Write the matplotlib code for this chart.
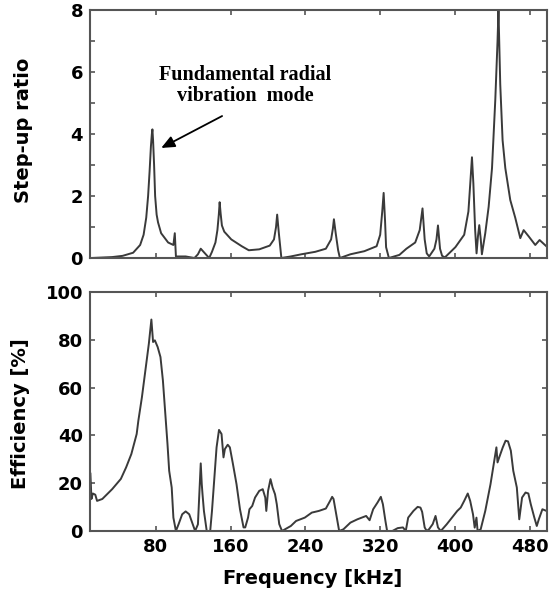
import matplotlib
matplotlib.use("Agg")
import matplotlib.pyplot as plt

# step-up ratio vs frequency (kHz)
freq_top = [11.1, 33.6, 44.8, 56.0, 63.5, 67.2, 70.0, 72.0, 73.6, 75.0, 76.0, 76.6,
            77.3, 78.4, 79.5, 81.1, 82.6, 85.9, 93.4, 99.0, 100.5, 101.7, 112.1,
            121.5, 125.2, 128.2, 132.7, 137.2, 140.2, 143.9, 146.0, 147.5, 148.4,
            149.4, 150.8, 153.3, 160.8, 172.0, 179.5, 190.7, 201.9, 206.4, 208.6,
            209.8, 211.6, 214.3, 224.3, 235.6, 250.5, 261.8, 267.4, 269.3, 270.4,
            272.3, 274.9, 276.8, 288.0, 302.9, 316.0, 319.8, 322.0, 323.5, 325.0,
            326.1, 329.1, 340.3, 347.8, 357.2, 362.0, 365.0, 367.3, 369.5, 372.1,
            377.7, 379.9, 381.5, 383.7, 385.9, 388.9, 400.1, 409.5, 414.0, 416.2,
            417.8, 419.3, 421.2, 422.7, 424.2, 425.6, 427.2, 428.4, 432.0, 435.6,
            439.2, 442.7, 445.1, 446.1, 448.0, 450.5, 453.4, 458.7, 464.0, 469.4,
            473.0, 478.3, 485.4, 490.0, 497.9]
ratio = [0.0, 0.03, 0.07, 0.17, 0.42, 0.75, 1.3, 2.0, 2.8, 3.6, 4.0, 4.15,
         3.8, 3.0, 2.0, 1.4, 1.15, 0.8, 0.5, 0.42, 0.8, 0.05, 0.05,
         0.0, 0.12, 0.3, 0.15, 0.0, 0.2, 0.5, 0.9, 1.4, 1.8,
         1.45, 1.05, 0.85, 0.6, 0.38, 0.25, 0.28, 0.4, 0.6, 1.0,
         1.4, 0.8, 0.0, 0.05, 0.12, 0.2, 0.3, 0.6, 0.95, 1.25,
         0.8, 0.25, 0.0, 0.12, 0.22, 0.38, 0.75, 1.5, 2.1, 1.2,
         0.35, 0.0, 0.1, 0.3, 0.5, 0.9, 1.6, 0.6, 0.15, 0.05,
         0.3, 0.6, 1.05, 0.3, 0.07, 0.02, 0.35, 0.75, 1.5, 2.5,
         3.25, 2.4, 0.9, 0.15, 0.7, 1.06, 0.6, 0.12, 0.8, 1.65,
         2.9, 5.1, 7.0, 8.0, 5.6, 3.8, 2.9, 1.87, 1.3, 0.64,
         0.9, 0.7, 0.42, 0.58, 0.36]

# efficiency vs frequency
freq_bot = [10.4, 11.5, 13.0, 15.6, 17.5, 23.1, 33.6, 42.9, 48.5, 54.1, 59.8, 61.6,
            65.4, 69.1, 72.8, 75.5, 77.3, 79.2, 82.2, 85.2, 87.8, 90.4, 92.7, 94.5,
            97.2, 99.0, 101.7, 104.6, 108.4, 112.1, 115.9, 119.6, 122.2, 125.2, 127.1,
            128.2, 129.3, 130.1, 131.6, 134.6, 138.3, 140.2, 142.8, 145.1, 147.7,
            150.4, 152.5, 154.0, 157.0, 159.3, 162.6, 166.4, 170.1, 173.9, 175.7,
            178.7, 180.2, 183.2, 186.2, 190.7, 194.4, 197.1, 198.2, 200.1, 202.7,
            204.9, 207.5, 209.4, 212.0, 215.0, 224.4, 230.0, 239.3, 246.8, 254.3,
            261.8, 266.3, 268.5, 270.0, 272.2, 274.1, 276.0, 280.5, 288.0, 295.5,
            304.8, 308.5, 312.3, 317.1, 320.5, 322.7, 325.4, 327.2, 332.8, 338.5,
            344.1, 347.1, 349.7, 355.3, 359.8, 362.8, 364.6, 367.3, 369.5, 372.1,
            375.9, 378.9, 381.5, 384.5, 390.8, 396.4, 402.1, 405.8, 409.5, 413.3,
            415.9, 418.9, 420.7, 422.6, 423.8, 427.1, 432.0, 437.6, 442.1, 443.9,
            445.1, 446.9, 450.7, 453.7, 456.3, 459.3, 461.9, 465.7, 468.3, 471.3,
            475.0, 478.0, 480.6, 484.4, 487.0, 489.2, 493.0, 497.4]
efficiency = [24, 13.4, 15.7, 15.2, 12.6, 13.4, 17.5, 21.8, 26.6, 32.2, 40.6, 46.2,
              56.0, 67.2, 78.4, 88.5, 79.1, 79.8, 77.0, 72.8, 63.0, 49.0, 36.4, 25.2,
              18.2, 5.6, 0, 2.9, 7.0, 8.2, 7.0, 2.9, 0, 2.8, 19.6,
              28.3, 19.6, 15.4, 8.4, 0, 0, 8.4, 22.4, 35.0, 42.3,
              40.6, 30.8, 34.3, 36.1, 35.0, 28.0, 19.6, 9.1, 1.5, 1.5,
              5.6, 9.1, 10.5, 14.0, 16.8, 17.5, 14.0, 8.4, 16.8, 21.7,
              18.2, 15.4, 11.2, 2.9, 0, 2.1, 4.2, 5.6, 7.7, 8.4,
              9.4, 12.6, 14.3, 13.4, 8.4, 4.2, 0, 0.7, 3.5, 4.9,
              6.3, 4.5, 9.1, 12.0, 14.3, 11.2, 4.2, 0, 0, 1.2,
              1.5, 0, 5.6, 8.4, 10.1, 9.8, 8.0, 1.5, 0, 0.8,
              2.9, 6.3, 1.5, 0, 2.8, 5.6, 8.4, 9.8, 12.6, 15.7,
              12.6, 7.0, 1.4, 5.6, 0, 0.7, 8.4, 19.6, 30.8, 35.0,
              28.7, 30.8, 35.0, 37.8, 37.5, 33.6, 25.2, 18.2, 4.9, 14.0,
              16.1, 15.7, 11.2, 5.6, 2.1, 4.9, 9.1, 8.4]

x_ticks = [80, 160, 240, 320, 400, 480]
top_ticks = [0, 1, 2, 3, 4, 5, 6, 7, 8]
top_labels = ["0", "", "2", "", "4", "", "6", "", "8"]
bot_ticks = [0, 20, 40, 60, 80, 100]

line_col = "#3a3a3a"
spine_col = "#555555"

fig = plt.figure(figsize=(5.49, 5.90), dpi=100)
ax1 = fig.add_axes([0.164, 0.5627, 0.8325, 0.4203])
ax2 = fig.add_axes([0.164, 0.1, 0.8325, 0.405])

ax1.plot(freq_top, ratio, color=line_col, lw=1.4)
ax2.plot(freq_bot, efficiency, color=line_col, lw=1.4)

for ax in (ax1, ax2):
    ax.set_xlim(10, 498)
    ax.set_xticks(x_ticks)
    ax.tick_params(direction="in", top=True, right=True, length=3.5,
                   width=1.2, color=spine_col, labelsize=13, pad=5)
    for s in ax.spines.values():
        s.set_color(spine_col)
        s.set_linewidth(1.5)

ax1.set_ylim(0, 8)
ax1.set_yticks(top_ticks)
ax1.set_yticklabels(top_labels, fontweight="bold")
ax1.tick_params(labelbottom=False)

ax2.set_ylim(0, 100)
ax2.set_yticks(bot_ticks)
ax2.set_yticklabels([str(t) for t in bot_ticks], fontweight="bold")
ax2.set_xticklabels([str(t) for t in x_ticks], fontweight="bold")

fig.text(24 / 549, 1 - 130 / 590, "Step-up ratio", rotation=90, ha="center",
         va="center", fontsize=14, fontweight="bold")
fig.text(20 / 549, 1 - 414 / 590, "Efficiency [%]", rotation=90, ha="center",
         va="center", fontsize=14, fontweight="bold")
fig.text(313 / 549, 1 - 578 / 590, "Frequency [kHz]", ha="center", va="center",
         fontsize=14, fontweight="bold")

ax1.text(175.6, 5.56, "Fundamental radial\nvibration  mode", ha="center",
         va="center", multialignment="center", fontsize=14.5, fontweight="bold",
         family="Liberation Serif", linespacing=1.1)
ax1.annotate("", xy=(86, 3.55), xytext=(151, 4.58),
             arrowprops=dict(arrowstyle="-|>,head_length=0.8,head_width=0.35",
                             color="black", lw=1.3, shrinkA=0, shrinkB=0))

fig.savefig("out.png", dpi=100)
